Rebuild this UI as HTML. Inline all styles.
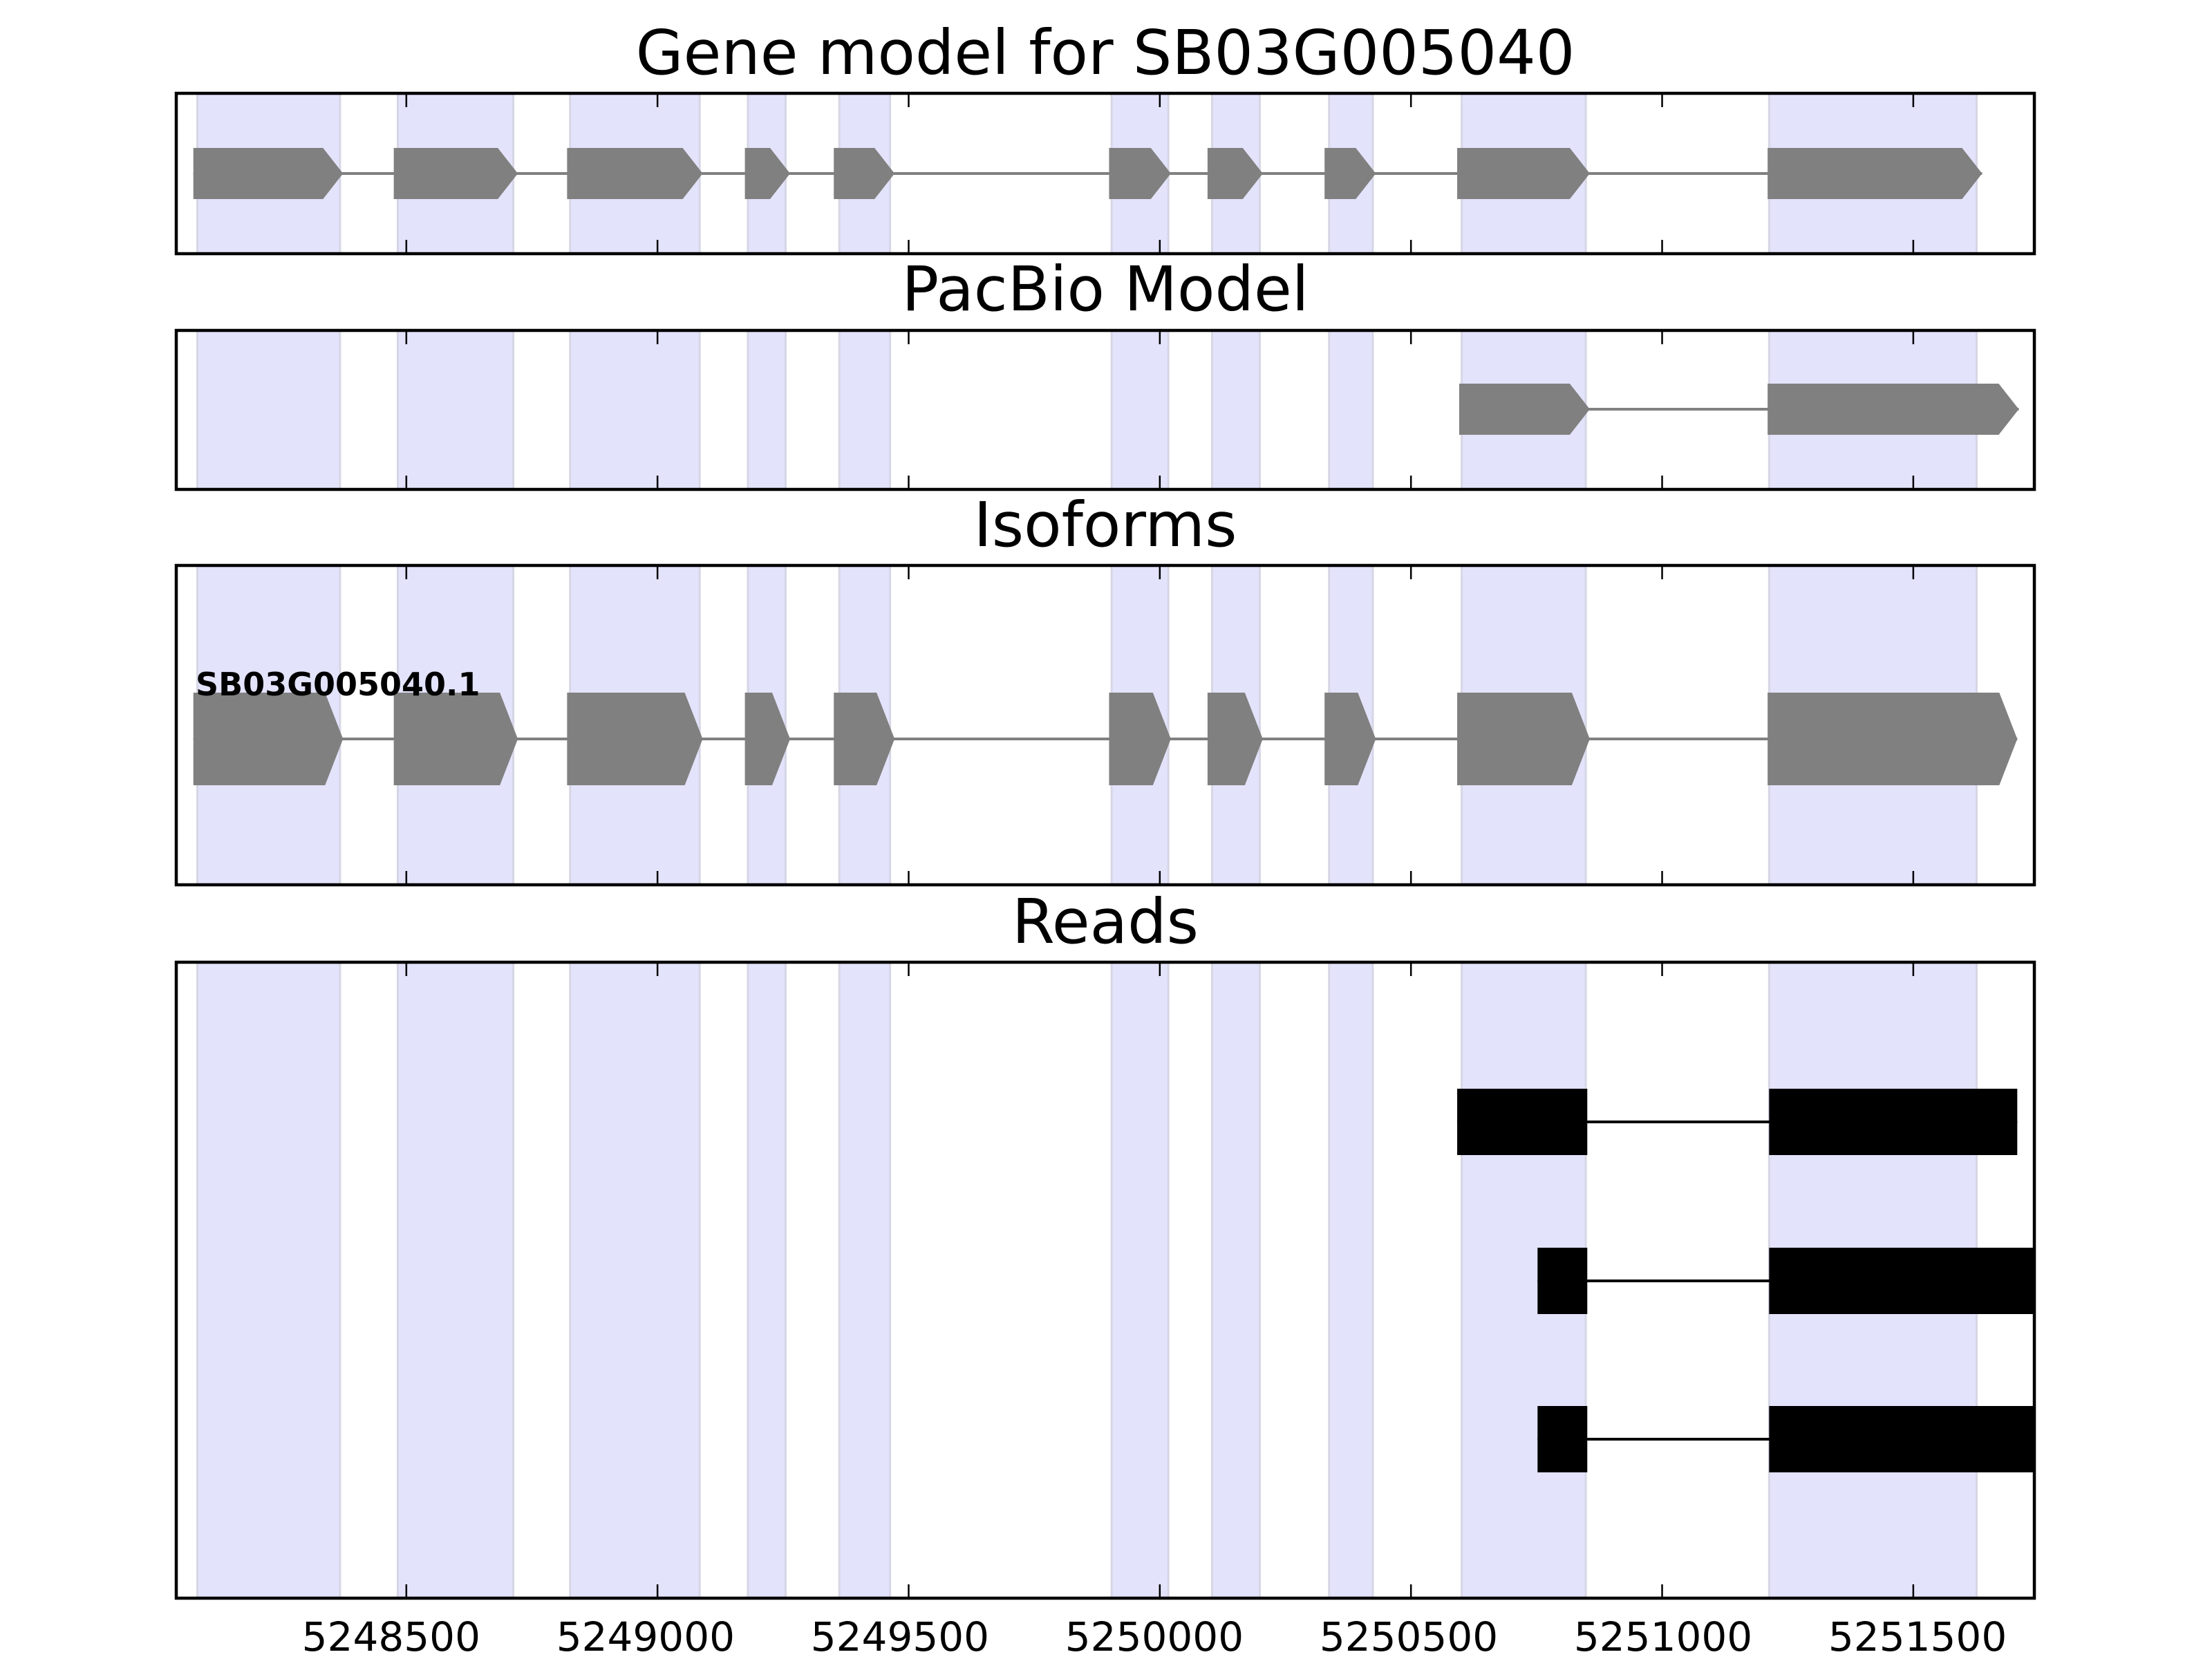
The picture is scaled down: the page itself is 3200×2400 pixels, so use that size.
<!DOCTYPE html>
<html><head><meta charset="utf-8"><style>
body{margin:0;background:#fff;}
svg{display:block;font-family:"DejaVu Sans","Liberation Sans",sans-serif;}
.shade{mix-blend-mode:multiply;}
</style></head><body>
<svg id="chart" width="3200" height="2400" viewBox="0 0 3200 2400" xmlns="http://www.w3.org/2000/svg">
<g id="layer-shade"></g>
<g id="layer-marks"></g>
<g id="layer-text"></g>
</svg>
<script>
const xDomain = [5248042, 5251741];
const tickValues = [5248500, 5249000, 5249500, 5250000, 5250500, 5251000, 5251500];
const tickLabels = ["5248500", "5249000", "5249500", "5250000", "5250500", "5251000", "5251500"];
const shadedStarts = [5248084, 5248483, 5248826, 5249180, 5249362, 5249904, 5250104, 5250337, 5250601, 5251213];
const shadedEnds = [5248368, 5248713, 5249084, 5249255, 5249463, 5250017, 5250199, 5250424, 5250848, 5251626];
const geneExonStarts = [5248076, 5248475, 5248820, 5249174, 5249351, 5249899, 5250095, 5250328, 5250592, 5251210];
const geneExonEnds = [5248374, 5248722, 5249090, 5249264, 5249472, 5250022, 5250205, 5250430, 5250856, 5251637];
const pacbioExonStarts = [5250596, 5251210];
const pacbioExonEnds = [5250856, 5251710];
const isoformExonStarts = [5248076, 5248475, 5248820, 5249174, 5249351, 5249899, 5250095, 5250328, 5250592, 5251210];
const isoformExonEnds = [5248374, 5248722, 5249090, 5249264, 5249472, 5250022, 5250205, 5250430, 5250856, 5251707];
const isoformLabel = "SB03G005040.1";
const readRows = [0, 1, 2];
const readExonStarts = [[5250592, 5251213], [5250752, 5251213], [5250752, 5251213]];
const readExonEnds = [[5250851, 5251707], [5250851, 5251741], [5250851, 5251741]];

const NS = "http://www.w3.org/2000/svg";
const svg = document.getElementById("chart");
const shadeLayer = document.getElementById("layer-shade");
const markLayer = document.getElementById("layer-marks");
const textLayer = document.getElementById("layer-text");
const L = 255, R = 2943;
function X(v){ return L + (v - xDomain[0]) / (xDomain[1] - xDomain[0]) * (R - L); }
function mk(tag, attrs, parent){ const e = document.createElementNS(NS, tag); for (const k in attrs) e.setAttribute(k, attrs[k]); parent.appendChild(e); return e; }

const panels = [
  {name:"gene-model-panel", title:"Gene model for SB03G005040", top:135, bot:367, ty:107},
  {name:"pacbio-panel", title:"PacBio Model", top:478, bot:708, ty:449},
  {name:"isoforms-panel", title:"Isoforms", top:818, bot:1280, ty:790},
  {name:"reads-panel", title:"Reads", top:1392, bot:2312, ty:1364}
];

panels.forEach((p) => {
  for (let k = 0; k < shadedStarts.length; k++) {
    const r = mk("rect", {"class": "shade", x: X(shadedStarts[k]), y: p.top, width: X(shadedEnds[k]) - X(shadedStarts[k]), height: p.bot - p.top, fill: "#e3e3fb", stroke: "#d6d6e6", "stroke-width": 3}, shadeLayer);
    
    
  }
  const t = mk("text", {x: (L + R) / 2, y: p.ty, "text-anchor": "middle", "font-size": 89, fill: "#000"}, textLayer);
  t.textContent = p.title;
  
  
});

function drawArrowModel(starts, ends, cy, h, head, name){
  const n = starts.length;
  const ln = mk("line", {x1: X(starts[0]), x2: X(ends[n-1]), y1: cy, y2: cy, stroke: "#808080", "stroke-width": 4}, markLayer);
  
  
  for (let k = 0; k < n; k++) {
    const x0 = X(starts[k]), x1 = X(ends[k]);
    const xb = Math.max(x0, x1 - head);
    const pts = [[x0, cy - h/2], [xb, cy - h/2], [x1, cy], [xb, cy + h/2], [x0, cy + h/2]].map(q => q.join(",")).join(" ");
    const pg = mk("polygon", {points: pts, fill: "#808080"}, markLayer);
    
    
  }
}
drawArrowModel(geneExonStarts, geneExonEnds, 251, 74, 29, "gene-model");
drawArrowModel(pacbioExonStarts, pacbioExonEnds, 592, 74, 29, "pacbio");
drawArrowModel(isoformExonStarts, isoformExonEnds, 1069, 134, 26, "isoform");
const lab = mk("text", {x: 283, y: 1006, "font-size": 46, "font-weight": "bold", fill: "#000"}, textLayer);
lab.textContent = isoformLabel;



const rowY = [1623, 1853, 2082];
readRows.forEach(r => {
  const s = readExonStarts[r], e = readExonEnds[r];
  const cy = rowY[r];
  const ln = mk("line", {x1: X(s[0]), x2: X(e[e.length-1]), y1: cy, y2: cy, stroke: "#000", "stroke-width": 4}, markLayer);
  
  
  for (let k = 0; k < s.length; k++) {
    const x0 = X(s[k]), x1 = Math.min(R, X(e[k]));
    const rc = mk("rect", {x: x0, y: cy - 48, width: x1 - x0, height: 96, fill: "#000"}, markLayer);
    
    
  }
});

panels.forEach((p) => {
  tickValues.forEach(v => {
    const x = X(v);
    mk("line", {x1: x, x2: x, y1: p.top, y2: p.top + 20, stroke: "#000", "stroke-width": 2.5}, textLayer);
    mk("line", {x1: x, x2: x, y1: p.bot, y2: p.bot - 20, stroke: "#000", "stroke-width": 2.5}, textLayer);
  });
  const fr = mk("rect", {x: L, y: p.top, width: R - L, height: p.bot - p.top, fill: "none", stroke: "#000", "stroke-width": 4.5}, textLayer);
  
  
});

tickValues.forEach((v, k) => {
  const t = mk("text", {x: X(v) - 22 + 4.7 * k, y: 2388, "text-anchor": "middle", "font-size": 58, fill: "#000"}, textLayer);
  t.textContent = tickLabels[k];
  
  
});
</script>
</body></html>
